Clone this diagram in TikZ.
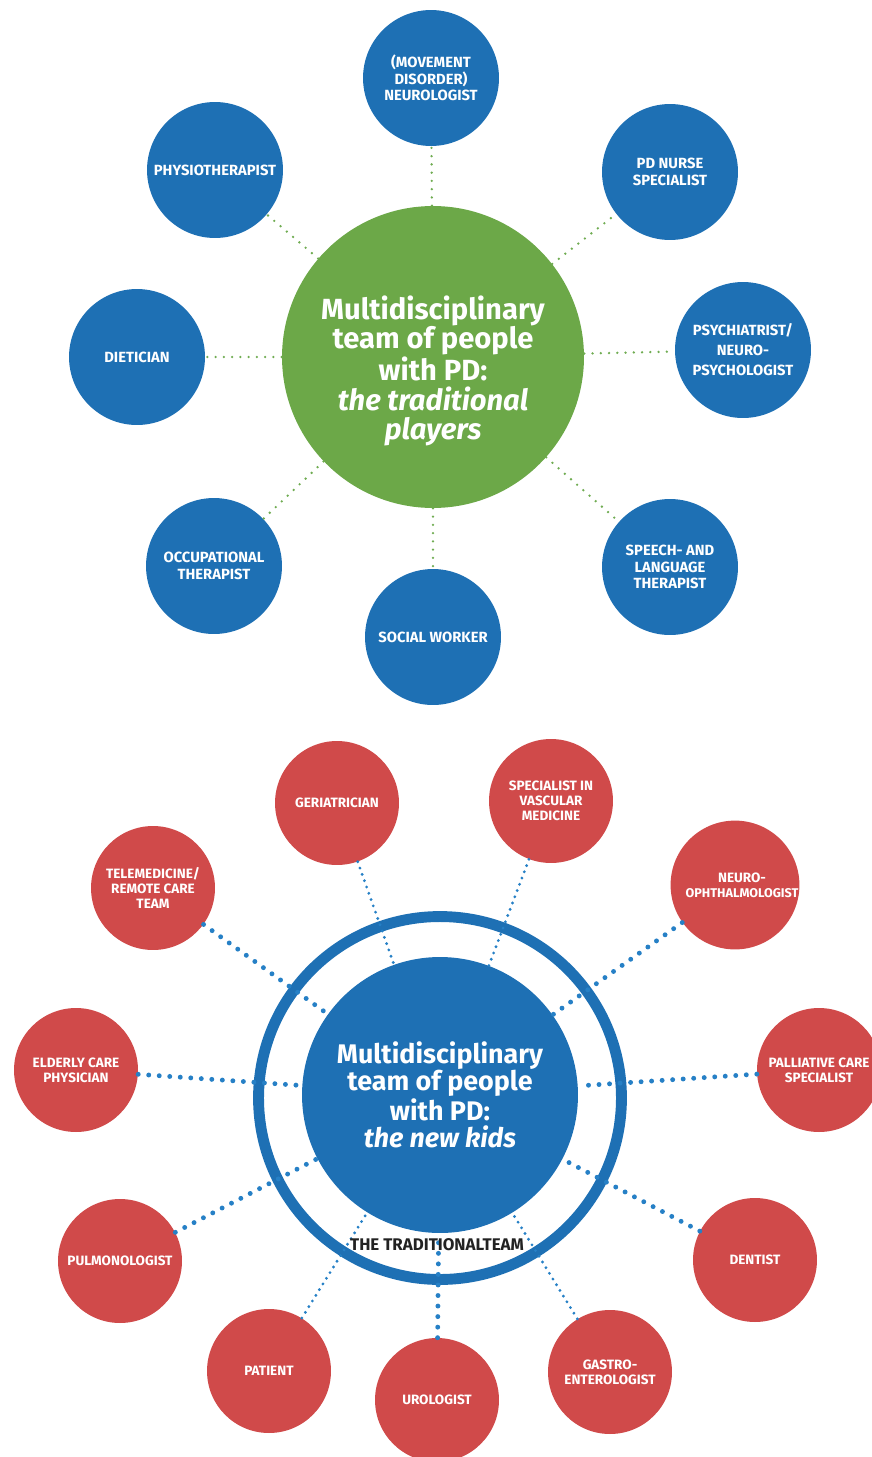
\documentclass[tikz,border=0pt]{standalone}
\usepackage{fontspec}
\setmainfont{Fira Sans}
\usetikzlibrary{positioning}

\definecolor{teamblue}{RGB}{30,112,180}
\definecolor{teamgreen}{RGB}{108,168,72}
\definecolor{teamred}{RGB}{208,74,74}
\definecolor{dotblue}{RGB}{38,128,198}
\definecolor{dotgreen}{RGB}{112,172,82}
\definecolor{labelgray}{RGB}{34,34,34}

\begin{document}
\begin{tikzpicture}[x=0.02cm, y=-0.02cm,
  oldrole/.style={circle, fill=teamblue, text=white, minimum size=2.72cm, inner sep=0pt, align=center, font=\bfseries\fontsize{8.4}{9.4}\selectfont},
  newrole/.style={circle, fill=teamred, text=white, minimum size=2.48cm, inner sep=0pt, align=center, font=\bfseries\fontsize{7.7}{8.7}\selectfont},
  tradhub/.style={circle, fill=teamgreen, minimum size=6.04cm, inner sep=0pt},
  hubtext/.style={text=white, align=center, font=\bfseries\fontsize{16.6}{16.8}\selectfont},
  newhub/.style={circle, fill=teamblue, text=white, minimum size=5.52cm, inner sep=0pt, align=center, font=\bfseries\fontsize{15.3}{15.5}\selectfont},
  teamring/.style={circle, draw=teamblue, line width=6.2pt, minimum size=7.26cm, inner sep=0pt},
  greendots/.style={dotgreen, line width=1.5pt, dash pattern=on 0pt off 4.7pt, line cap=round},
  bluedots/.style={dotblue, line width=2.8pt, dash pattern=on 0pt off 6pt, line cap=round},
  finedots/.style={dotblue, line width=1.8pt, dash pattern=on 0pt off 3.8pt, line cap=round}
]
\useasboundingbox (0,0) rectangle (872,1457);
\clip (0,0) rectangle (872,1457);

% the traditional players
\node[tradhub] (trad) at (433,357) {};
\node[hubtext] (tradtxt) at (433,371) {Multidisciplinary\\team of people\\with PD:\\\textit{the traditional}\\\textit{players}};

\node[oldrole] (neuro) at (431,78) {(MOVEMENT\\DISORDER)\\NEUROLOGIST};
\node[oldrole] (nurse) at (670,172) {PD NURSE\\SPECIALIST};
\node[oldrole] (psych) at (743,350) {PSYCHIATRIST/\\[2pt]NEURO-\\[2pt]PSYCHOLOGIST};
\node[oldrole] (speech) at (670,567) {SPEECH- AND\\LANGUAGE\\THERAPIST};
\node[oldrole] (social) at (433,637) {SOCIAL WORKER};
\node[oldrole] (occup) at (214,566) {OCCUPATIONAL\\THERAPIST};
\node[oldrole] (diet) at (137,357) {DIETICIAN};
\node[oldrole] (physio) at (215,170) {PHYSIOTHERAPIST};

\draw[greendots] (trad) -- (neuro);
\draw[greendots] (trad) -- (nurse);
\draw[greendots] (trad) -- (psych);
\draw[greendots] (trad) -- (speech);
\draw[greendots] (trad) -- (social);
\draw[greendots] (trad) -- (occup);
\draw[greendots] (trad) -- (diet);
\draw[greendots] (trad) -- (physio);

% the new kids
\node[teamring] (ring) at (440,1098) {};
\node[newhub] (newkids) at (440,1095) {Multidisciplinary\\team of people\\with PD:\\\textit{the new kids}};

\node[newrole] (geri) at (337,803) {GERIATRICIAN};
\node[newrole] (vasc) at (551,801) {SPECIALIST IN\\VASCULAR\\MEDICINE};
\node[newrole] (ophth) at (735,885) {\hspace*{8pt}NEURO-\\\hspace*{8pt}\fontsize{7.2}{8.7}\selectfont OPHTHALMOLOGIST};
\node[newrole] (pall) at (819,1070) {PALLIATIVE CARE\\SPECIALIST};
\node[newrole] (dent) at (755,1260) {DENTIST};
\node[newrole] (gastro) at (610,1372) {GASTRO-\\ENTEROLOGIST};
\node[newrole] (uro) at (437,1400) {UROLOGIST};
\node[newrole] (pat) at (269,1371) {PATIENT};
\node[newrole] (pulmo) at (120,1261) {PULMONOLOGIST};
\node[newrole] (elder) at (76,1070) {ELDERLY CARE\\PHYSICIAN};
\node[newrole] (tele) at (153,888) {TELEMEDICINE/\\REMOTE CARE\\TEAM};

\draw[finedots] (geri) -- (newkids);
\draw[finedots] (vasc) -- (newkids);
\draw[bluedots] (ophth) -- (newkids);
\draw[bluedots] (pall) -- (newkids);
\draw[bluedots] (dent) -- (newkids);
\draw[finedots] (gastro) -- (newkids);
\draw[bluedots] (uro) -- (newkids);
\draw[finedots] (pat) -- (newkids);
\draw[bluedots] (pulmo) -- (newkids);
\draw[bluedots] (elder) -- (newkids);
\draw[bluedots] (tele) -- (newkids);

\node[text=labelgray, font=\bfseries\fontsize{9.6}{11}\selectfont] (tradteam) at (437,1245) {THE TRADITIONALTEAM};
\end{tikzpicture}
\end{document}
